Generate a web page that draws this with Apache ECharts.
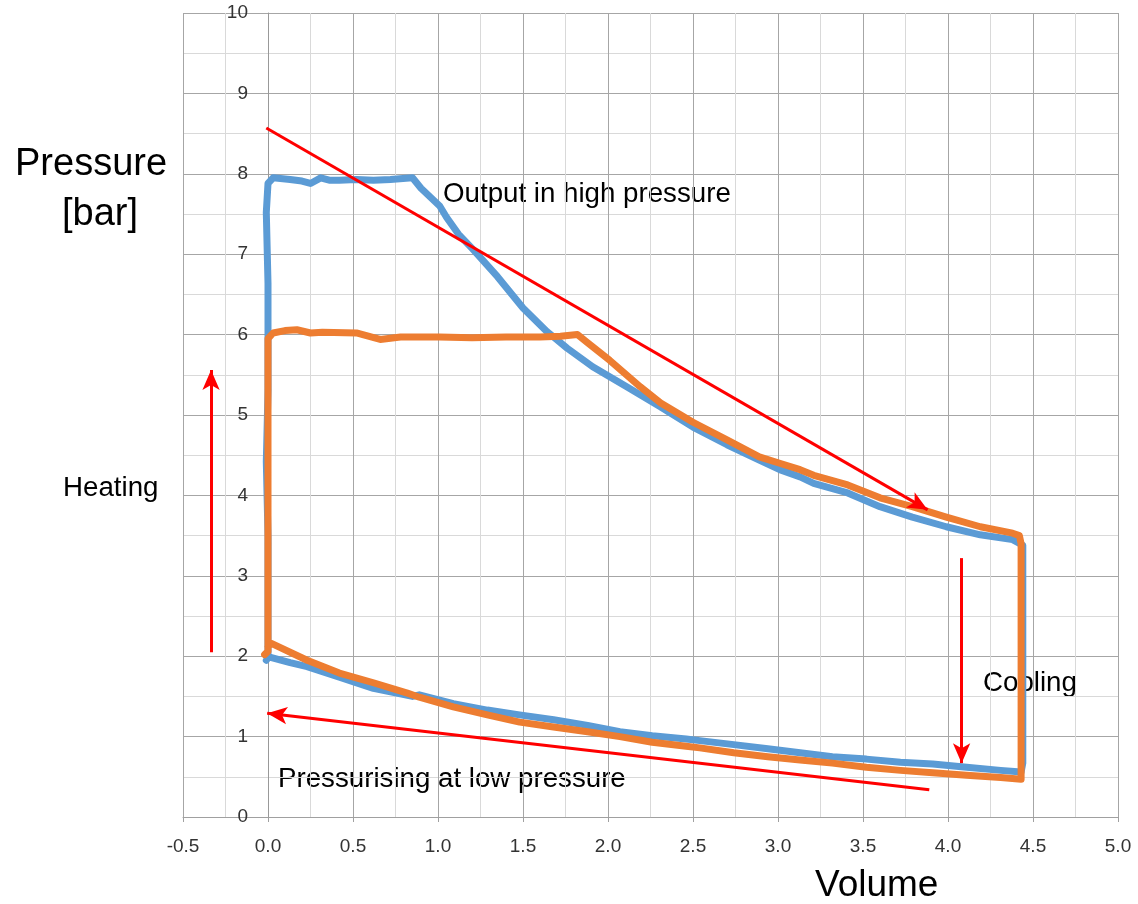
<!DOCTYPE html>
<html>
<head>
    <meta charset="utf-8">
    <title>PV cycle</title>
    <script src="https://cdn.jsdelivr.net/npm/echarts@6/dist/echarts.min.js"></script>
    <style>
        html, body { margin: 0; padding: 0; background: #fff; }
    </style>
</head>
<body>
<div id="main" style="width: 1138px;height:904px;"></div>
<script type="text/javascript">
    // axis ticks
    var volumeTicks = [-0.5, 0, 0.5, 1, 1.5, 2, 2.5, 3, 3.5, 4, 4.5, 5];
    var pressureTicks = [0, 1, 2, 3, 4, 5, 6, 7, 8, 9, 10];

    // first cycle (blue), in cycle order
    var blueVolume = [-0.01, 0.0, 0.0, 0.0, -0.01, 0.0, 0.0, 0.0, -0.01, 0.0, 0.03, 0.13, 0.2, 0.25, 0.31, 0.36, 0.42, 0.52, 0.62, 0.72, 0.85, 0.9, 1.01, 1.05, 1.12, 1.21, 1.35, 1.5, 1.64, 1.76, 1.91, 2.11, 2.31, 2.5, 2.7, 2.89, 3.01, 3.13, 3.21, 3.41, 3.6, 3.79, 3.99, 4.19, 4.38, 4.44, 4.44, 4.44, 4.44, 4.43, 4.31, 4.11, 3.91, 3.72, 3.52, 3.32, 3.13, 2.94, 2.74, 2.54, 2.46, 2.26, 2.07, 1.88, 1.68, 1.48, 1.29, 1.09, 0.89, 0.85, 0.62, 0.42, 0.23, 0.13, 0.01];
    var bluePressure = [1.95, 1.98, 2.6, 3.5, 4.42, 5.3, 6.1, 6.64, 7.52, 7.88, 7.95, 7.93, 7.91, 7.88, 7.95, 7.92, 7.92, 7.93, 7.92, 7.93, 7.95, 7.82, 7.6, 7.46, 7.25, 7.05, 6.72, 6.33, 6.04, 5.83, 5.6, 5.35, 5.1, 4.85, 4.63, 4.44, 4.32, 4.23, 4.15, 4.03, 3.86, 3.73, 3.61, 3.51, 3.45, 3.38, 2.5, 1.5, 0.67, 0.56, 0.58, 0.62, 0.66, 0.68, 0.72, 0.75, 0.8, 0.85, 0.9, 0.95, 0.97, 1.01, 1.06, 1.14, 1.21, 1.27, 1.33, 1.41, 1.52, 1.5, 1.6, 1.74, 1.87, 1.92, 1.99];

    // second cycle (orange)
    var orangeVolume = [-0.02, 0.0, 0.0, 0.0, 0.0, 0.0, 0.0, 0.0, 0.0, 0.03, 0.1, 0.17, 0.25, 0.32, 0.52, 0.66, 0.78, 1.01, 1.2, 1.4, 1.6, 1.72, 1.82, 1.88, 2.01, 2.19, 2.31, 2.5, 2.7, 2.89, 3.01, 3.13, 3.21, 3.41, 3.6, 3.79, 3.99, 4.19, 4.38, 4.42, 4.43, 4.43, 4.43, 4.43, 4.31, 4.11, 3.91, 3.72, 3.52, 3.32, 3.13, 2.94, 2.74, 2.54, 2.46, 2.26, 2.07, 1.88, 1.68, 1.48, 1.29, 1.09, 0.89, 0.82, 0.62, 0.42, 0.23, 0.02, 0.0];
    var orangePressure = [2.02, 2.06, 2.6, 3.0, 3.6, 4.0, 4.8, 5.5, 5.95, 6.02, 6.05, 6.06, 6.02, 6.03, 6.02, 5.94, 5.97, 5.97, 5.96, 5.97, 5.97, 5.98, 6.0, 5.9, 5.68, 5.35, 5.15, 4.91, 4.69, 4.48, 4.4, 4.32, 4.25, 4.13, 3.97, 3.86, 3.73, 3.61, 3.53, 3.5, 3.4, 2.41, 1.2, 0.47, 0.49, 0.52, 0.55, 0.58, 0.62, 0.67, 0.71, 0.75, 0.8, 0.86, 0.88, 0.93, 1.0, 1.06, 1.12, 1.18, 1.27, 1.37, 1.49, 1.54, 1.67, 1.79, 1.95, 2.16, 2.12];

    // red arrows: [fromVolume, fromPressure, toVolume, toPressure]
    var arrowOutput = [-0.01, 8.57, 3.88, 3.82];
    var arrowHeating = [-0.335, 2.05, -0.335, 5.56];
    var arrowCooling = [4.08, 3.22, 4.08, 0.67];
    var arrowLow = [3.89, 0.34, -0.005, 1.29];

    function zip(xs, ys) {
        var out = [];
        for (var i = 0; i < xs.length; i++) out.push([xs[i], ys[i]]);
        return out;
    }
    function arrow(a) {
        return [{coord: [a[0], a[1]]}, {coord: [a[2], a[3]]}];
    }

    var font = '"Liberation Sans", Arial, sans-serif';
    var myChart = echarts.init(document.getElementById('main'), null, {renderer: 'canvas'});

    // y axis sits on volume 0, labels to its left inside the plot
    var plotLeft = 183, plotRight = 20;
    var plotWidth = 1138 - plotLeft - plotRight;
    var yAxisShift = plotWidth * (0 - volumeTicks[0]) / (volumeTicks[volumeTicks.length - 1] - volumeTicks[0]);

    var option = {
        animation: false,
        grid: {left: plotLeft, right: plotRight, top: 13, bottom: 87},
        xAxis: {
            type: 'value',
            min: volumeTicks[0],
            max: volumeTicks[volumeTicks.length - 1],
            interval: 0.5,
            axisLine: {show: true, onZero: false, lineStyle: {color: '#a0a0a0', width: 1}},
            axisTick: {show: true, length: 5, lineStyle: {color: '#a0a0a0'}},
            axisLabel: {
                margin: 20, fontSize: 19, color: '#333', fontFamily: font,
                formatter: function (v) { return v.toFixed(1); }
            },
            splitLine: {show: true, lineStyle: {color: '#a6a6a6', width: 1}},
            minorTick: {show: false, splitNumber: 2},
            minorSplitLine: {show: true, lineStyle: {color: '#d9d9d9', width: 1}}
        },
        yAxis: {
            type: 'value',
            min: pressureTicks[0],
            max: pressureTicks[pressureTicks.length - 1],
            interval: 1,
            offset: -yAxisShift,
            axisLine: {show: true, onZero: false, lineStyle: {color: '#999', width: 1}},
            axisTick: {show: false},
            axisLabel: {margin: 20, fontSize: 19, color: '#333', fontFamily: font},
            splitLine: {show: true, lineStyle: {color: '#a6a6a6', width: 1}},
            minorTick: {show: false, splitNumber: 2},
            minorSplitLine: {show: true, lineStyle: {color: '#d9d9d9', width: 1}}
        },
        graphic: [
            {type: 'text', left: 15, top: 146, style: {text: 'Pressure', font: '38px ' + font, fill: '#000'}},
            {type: 'text', left: 62, top: 196, style: {text: '[bar]', font: '38px ' + font, fill: '#000'}},
            {type: 'text', left: 815, top: 867, style: {text: 'Volume', font: '37px ' + font, fill: '#000'}},
            {type: 'text', left: 443, top: 180, style: {text: 'Output in high pressure', font: '27.7px ' + font, fill: '#000'}},
            {type: 'text', left: 63, top: 474, style: {text: 'Heating', font: '27.7px ' + font, fill: '#000'}},
            {type: 'text', left: 983, top: 669, style: {text: 'Cooling', font: '27.7px ' + font, fill: '#000'}},
            {type: 'text', left: 278, top: 765, style: {text: 'Pressurising at low pressure', font: '27.7px ' + font, fill: '#000'}}
        ],
        series: [
            {
                name: 'Cycle 1',
                type: 'line',
                data: zip(blueVolume, bluePressure),
                showSymbol: false,
                smooth: false,
                lineStyle: {color: '#5b9bd5', width: 7, cap: 'round', join: 'round'},
                itemStyle: {color: '#5b9bd5'},
                z: 2
            },
            {
                name: 'Cycle 2',
                type: 'line',
                data: zip(orangeVolume, orangePressure),
                showSymbol: false,
                smooth: false,
                lineStyle: {color: '#ed7d31', width: 7, cap: 'round', join: 'round'},
                itemStyle: {color: '#ed7d31'},
                z: 3
            },
            {
                name: 'Arrows',
                type: 'line',
                data: [],
                z: 4,
                markLine: {
                    silent: true,
                    symbol: ['none', 'arrow'],
                    symbolSize: [13, 20],
                    label: {show: false},
                    lineStyle: {color: '#ff0000', width: 3, type: 'solid'},
                    data: [arrow(arrowOutput), arrow(arrowHeating), arrow(arrowCooling), arrow(arrowLow)]
                }
            }
        ]
    };

    myChart.setOption(option);
</script>
</body>
</html>
